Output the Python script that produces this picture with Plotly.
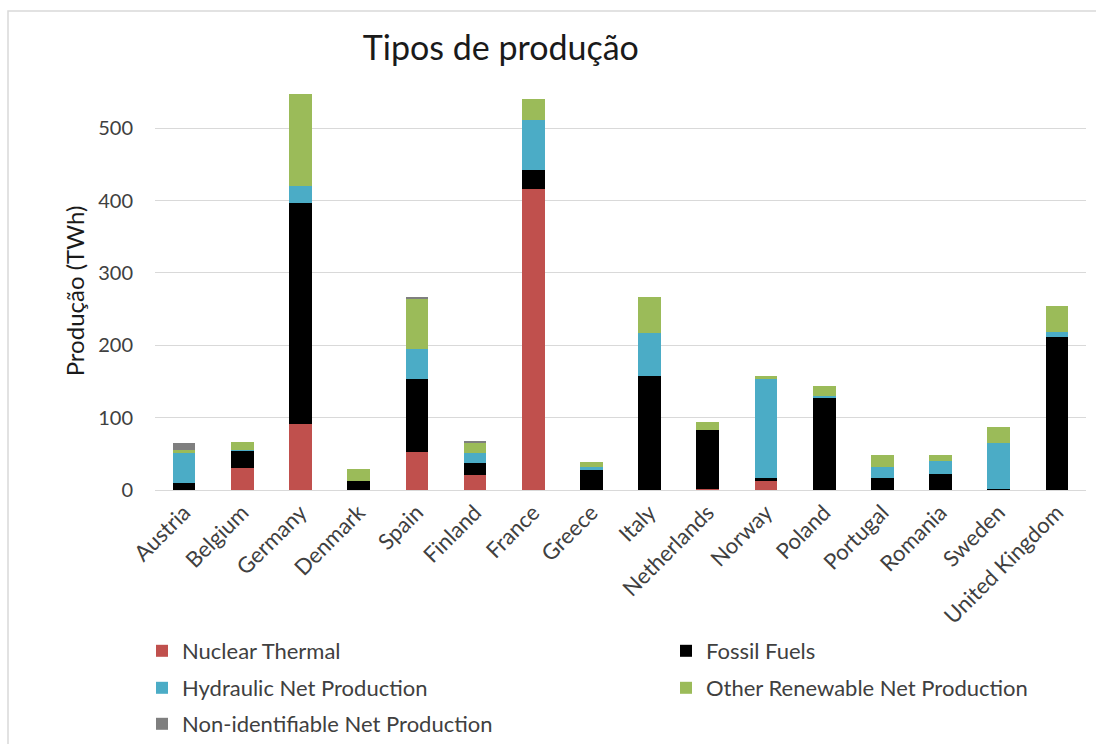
import plotly.graph_objects as go

countries = ["Austria", "Belgium", "Germany", "Denmark", "Spain", "Finland", "France",
             "Greece", "Italy", "Netherlands", "Norway", "Poland", "Portugal", "Romania",
             "Sweden", "United Kingdom"]
nuclear = [0, 30, 91, 0, 53, 21, 416, 0, 0, 1.5, 13, 0, 0, 0, 0, 0]
fossil = [9.3, 24, 305, 12.4, 100, 16.3, 26.7, 28.6, 158, 82, 3.7, 128, 16.1, 21.7, 1.8, 211]
hydro = [41.5, 1.5, 24.6, 0, 42.4, 14.4, 69.2, 2.7, 58.6, 0, 137, 2, 16, 19, 63.5, 7.4]
other = [4.6, 10.7, 126, 16.6, 69.6, 13.4, 28, 7.8, 50, 10.6, 3.2, 13.8, 16.4, 7.6, 21.6, 35.6]
nonid = [9.2, 0, 0, 0, 1.8, 1.3, 0, 0, 0, 0, 0, 0, 0, 0, 0, 0]

series_names = ["Nuclear Thermal", "Fossil Fuels", "Hydraulic Net Production",
                "Other Renewable Net Production", "Non-identifiable Net Production"]
series_values = [nuclear, fossil, hydro, other, nonid]
series_colors = ["#C0504D", "#000000", "#4BACC6", "#9BBB59", "#7F7F7F"]
legend_ids = ["legend", "legend2", "legend3", "legend4", "legend5"]

W, H = 1096, 744
L, R, T, B = 155, 10, 92, 254
pw, ph = W - L - R, H - T - B

FONT = "Lato"
TXT = "#404040"

fig = go.Figure()
for name, vals, col, lg in zip(series_names, series_values, series_colors, legend_ids):
    fig.add_trace(go.Bar(x=countries, y=vals, name=name, marker_color=col,
                         marker_line_width=0, legend=lg))

def px_x(p):
    return (p - L) / pw

def px_y(p):
    return (H - B - p) / ph

# legend item positions (left edge px, row centre px)
leg_pos = [(142, 651), (666, 651), (142, 688), (666, 688), (142, 724)]
leg_layout = {}
for lg, (lx, ly) in zip(legend_ids, leg_pos):
    leg_layout[lg] = dict(x=px_x(lx), y=px_y(ly), xanchor="left", yanchor="middle",
                          orientation="h", bgcolor="rgba(0,0,0,0)",
                          font=dict(family=FONT, size=22, color=TXT))

fig.update_layout(
    width=W, height=H,
    margin=dict(l=L, r=R, t=T, b=B, autoexpand=False),
    paper_bgcolor="white", plot_bgcolor="white",
    barmode="stack", bargap=0.61,
    font=dict(family=FONT, color=TXT),
    title=dict(text="Tipos de produção", x=0.457, xanchor="center", y=0.935, yanchor="middle",
               font=dict(family=FONT, size=34, color="#1a1a1a")),
    xaxis=dict(tickangle=-45, tickfont=dict(family=FONT, size=22, color=TXT),
               showgrid=False, showline=True, linecolor="#d9d9d9", linewidth=1,
               ticks=""),
    yaxis=dict(range=[0, 550], tickvals=[0, 100, 200, 300, 400, 500],
               tickfont=dict(family=FONT, size=20, color=TXT),
               gridcolor="#d9d9d9", gridwidth=1, zeroline=False,
               ticklabelstandoff=21,
               title=dict(text="Produção (TWh)", font=dict(family=FONT, size=24, color="#1a1a1a"),
                          standoff=6)),
    showlegend=True,
    shapes=[dict(type="rect", xref="paper", yref="paper",
                 x0=px_x(8), x1=px_x(1110), y0=px_y(760), y1=px_y(11),
                 line=dict(color="#d9d9d9", width=1.5), fillcolor="rgba(0,0,0,0)", layer="below")],
    **leg_layout,
)

fig.write_html("out.html", config={"displayModeBar": False},
               post_script="document.body.style.margin='0px';")
